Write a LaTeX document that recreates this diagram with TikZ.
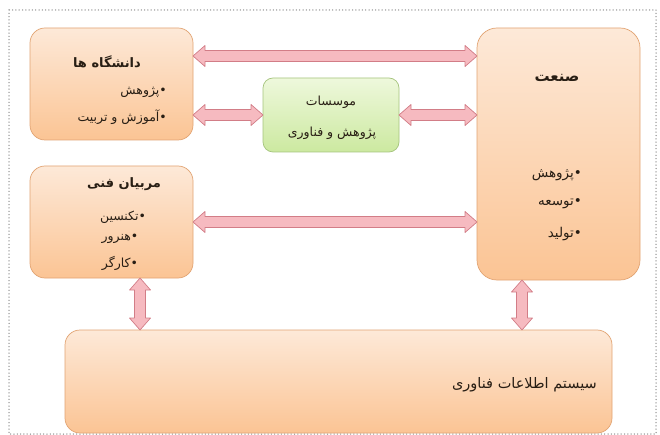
\documentclass[tikz,border=0pt]{standalone}
\usepackage{fontspec}
\usetikzlibrary{calc}
\TeXXeTstate=1
\newfontfamily\fa[Script=Arabic]{DejaVu Sans}
\newcommand{\rtltxt}[1]{\beginR #1\endR}
\definecolor{otop}{RGB}{253,233,216}
\definecolor{obot}{RGB}{251,196,148}
\definecolor{oline}{RGB}{226,164,115}
\definecolor{gtop}{RGB}{238,248,220}
\definecolor{gbot}{RGB}{204,233,160}
\definecolor{gline}{RGB}{165,196,125}
\definecolor{arrowfill}{RGB}{246,186,192}
\definecolor{arrowline}{RGB}{210,125,135}
\definecolor{txt}{RGB}{40,30,20}
\definecolor{frame}{RGB}{150,150,150}
\tikzset{
  obox/.style={draw=oline, line width=0.7pt, top color=otop, bottom color=obot,
    rounded corners=15pt, inner sep=0pt, outer sep=0pt},
  gbox/.style={draw=gline, line width=0.7pt, top color=gtop, bottom color=gbot,
    rounded corners=10pt, inner sep=0pt, outer sep=0pt},
  lbl/.style={font=\fa\fontsize{12.5}{14}\selectfont, text=txt, inner sep=1pt},
  ttl/.style={font=\fa\bfseries\fontsize{13}{15}\selectfont, text=txt, inner sep=1pt},
  blockarrow/.style={draw=arrowline, fill=arrowfill, line width=0.7pt, line join=round}
}
% block double arrow between two named coordinates
\newcommand{\blockarr}[2]{%
  \path let \p1=(#1), \p2=(#2),
      \n1={atan2(\y2-\y1,\x2-\x1)}, \n2={veclen(\x2-\x1,\y2-\y1)} in
      \pgfextra{\xdef\arrang{\n1}\xdef\arrlen{\n2}};
  \begin{scope}[shift={(#1)}, rotate=\arrang, x=1pt, y=1pt]
  \draw[blockarrow] (0,0) -- (12,10.5) -- (12,5.5) -- ({\arrlen-12},5.5)
    -- ({\arrlen-12},10.5) -- (\arrlen,0) -- ({\arrlen-12},-10.5)
    -- ({\arrlen-12},-5.5) -- (12,-5.5) -- (12,-10.5) -- cycle;
  \end{scope}}
\begin{document}
\begin{tikzpicture}[x=1pt,y=-1pt]
\useasboundingbox (0,0) rectangle (660,435);
\fill[white] (0,0) rectangle (660,435);
\draw[frame, line width=1.5pt, dash pattern=on 0pt off 3.3pt, line cap=round]
  (9,10) rectangle (656,434);

% boxes
\node[obox, minimum width=163pt, minimum height=112pt] (uni) at (111.5,84) {};
\node[obox, minimum width=163pt, minimum height=112pt] (mor) at (111.5,222) {};
\node[obox, rounded corners=20pt, minimum width=163pt, minimum height=252pt] (ind) at (558.5,154) {};
\node[gbox, minimum width=136pt, minimum height=74pt] (grn) at (331,115) {};
\node[obox, minimum width=547pt, minimum height=103pt] (sys) at (338.5,381.5) {};

% texts
\node[ttl] (unit) at (107,62) {\rtltxt{دانشگاه ها}};
\node[lbl, anchor=east] (uni1) at (168,92) {\rtltxt{•پژوهش}};
\node[lbl, anchor=east] (uni2) at (168,117) {\rtltxt{•آموزش و تربیت}};

\node[ttl] (mort) at (124,184) {\rtltxt{مربیان فنی}};
\node[lbl] (mor1) at (123,217) {\rtltxt{•تکنسین}};
\node[lbl] (mor2) at (120,239) {\rtltxt{•هنرور}};
\node[lbl] (mor3) at (120,263) {\rtltxt{•کارگر}};

\node[ttl, font=\fa\bfseries\fontsize{15}{17}\selectfont] (indt) at (557,78) {\rtltxt{صنعت}};
\node[lbl, anchor=east, font=\fa\fontsize{13.5}{15}\selectfont] (ind1) at (583,175) {\rtltxt{•پژوهش}};
\node[lbl, anchor=east, font=\fa\fontsize{13.5}{15}\selectfont] (ind2) at (583,204) {\rtltxt{•توسعه}};
\node[lbl, anchor=east, font=\fa\fontsize{13.5}{15}\selectfont] (ind3) at (583,234) {\rtltxt{•تولید}};

\node[lbl] (grn1) at (331,102) {\rtltxt{موسسات}};
\node[lbl] (grn2) at (332,133) {\rtltxt{پژوهش و فناوری}};

\node[lbl, anchor=east, font=\fa\fontsize{14.5}{16}\selectfont] (syst) at (598,385) {\rtltxt{سیستم اطلاعات فناوری}};

% connector end points
\coordinate (a1s) at ($(uni.north east)!0.25!(uni.south east)$);
\coordinate (a1e) at (ind.west |- a1s);
\coordinate (a2s) at (uni.east |- grn.west);
\coordinate (a2e) at (grn.west);
\coordinate (a3s) at (grn.east);
\coordinate (a3e) at (ind.west |- grn.east);
\coordinate (a4s) at (mor.east);
\coordinate (a4e) at (ind.west |- mor.east);
\coordinate (v1s) at ($(mor.south west)!0.675!(mor.south east)$);
\coordinate (v1e) at (sys.north -| v1s);
\coordinate (v2s) at ($(ind.south west)!0.276!(ind.south east)$);
\coordinate (v2e) at (sys.north -| v2s);

% connectors
\blockarr{a1s}{a1e}
\blockarr{a2s}{a2e}
\blockarr{a3s}{a3e}
\blockarr{a4s}{a4e}
\blockarr{v1s}{v1e}
\blockarr{v2s}{v2e}
\end{tikzpicture}
\end{document}
